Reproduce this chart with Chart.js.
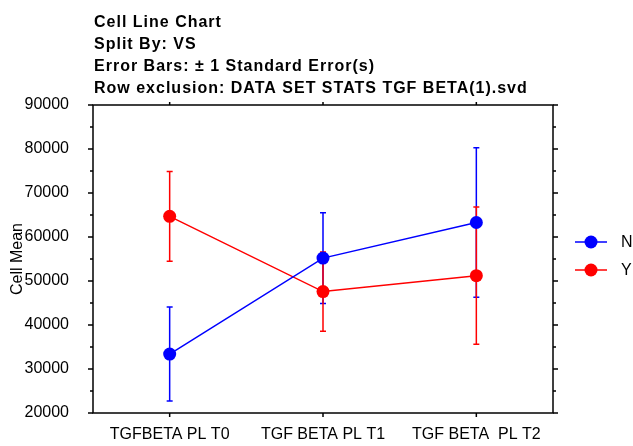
<!DOCTYPE html>
<html>
<head>
<meta charset="utf-8">
<script src="https://cdn.jsdelivr.net/npm/chart.js@4"></script>
<style>
html,body{margin:0;padding:0;background:#fff;}
#wrap{width:633px;height:446px;}
</style>
</head>
<body>
<div id="wrap"><canvas id="c" width="633" height="446"></canvas></div>
<script>
// data
const categories = ["TGFBETA PL T0", "TGF BETA PL T1", "TGF BETA  PL T2"];
const seriesNames = ["N", "Y"];
const seriesColors = ["#0000ff", "#ff0000"];
const nMean = [33400, 55200, 63300];
const nErr = [10700, 10300, 17000];
const yMean = [64700, 47600, 51200];
const yErr = [10200, 9000, 15600];
const yTicks = [20000, 30000, 40000, 50000, 60000, 70000, 80000, 90000];
const titleLines = [
  "Cell Line Chart",
  "Split By: VS",
  "Error Bars: \u00b1 1 Standard Error(s)",
  "Row exclusion: DATA SET STATS TGF BETA(1).svd"
];

const FONT = "'Liberation Sans', Arial, sans-serif";

// error bars (drawn under the lines/markers)
const errorBars = {
  id: "errorBars",
  beforeDatasetsDraw(chart){
    const {ctx, scales:{x, y}} = chart;
    ctx.save();
    chart.data.datasets.forEach(ds=>{
      ctx.strokeStyle = ds.borderColor;
      ctx.lineWidth = 1.5;
      ds.data.forEach((v, j)=>{
        const e = ds.errors[j];
        const px = x.getPixelForValue(j);
        const t = y.getPixelForValue(v + e);
        const b = y.getPixelForValue(v - e);
        ctx.beginPath();
        ctx.moveTo(px, t); ctx.lineTo(px, b);
        ctx.moveTo(px - 3, t); ctx.lineTo(px + 3, t);
        ctx.moveTo(px - 3, b); ctx.lineTo(px + 3, b);
        ctx.stroke();
      });
    });
    ctx.restore();
  }
};

// box frame with major/minor ticks
const frame = {
  id: "frame",
  afterDraw(chart){
    const {ctx, chartArea:{left, right, top, bottom}, scales:{x, y}} = chart;
    ctx.save();
    ctx.strokeStyle = "#000";
    ctx.lineWidth = 1.5;
    ctx.strokeRect(left, top, right - left, bottom - top);
    ctx.beginPath();
    yTicks.forEach((v, i)=>{
      const py = y.getPixelForValue(v);
      ctx.moveTo(left - 5, py); ctx.lineTo(left, py);
      ctx.moveTo(right, py); ctx.lineTo(right + 5, py);
      if (i < yTicks.length - 1){
        const pm = y.getPixelForValue((v + yTicks[i+1]) / 2);
        ctx.moveTo(left - 3, pm); ctx.lineTo(left, pm);
        ctx.moveTo(right, pm); ctx.lineTo(right + 3, pm);
      }
    });
    categories.forEach((c, i)=>{
      const px = x.getPixelForValue(i);
      ctx.moveTo(px, top - 3); ctx.lineTo(px, top);
      ctx.moveTo(px, bottom); ctx.lineTo(px, bottom + 4);
    });
    ctx.stroke();
    ctx.restore();
  }
};

// title block and legend
const labels = {
  id: "labels",
  afterDraw(chart){
    const {ctx, chartArea:{left, right, top, bottom}} = chart;
    ctx.save();
    ctx.fillStyle = "#000";
    ctx.font = "bold 16px " + FONT;
    ctx.textBaseline = "alphabetic";
    ctx.letterSpacing = "1px";
    titleLines.forEach((t, i)=> ctx.fillText(t, left + 1, 26.5 + i * 22.1));
    ctx.letterSpacing = "0px";

    const cy = (top + bottom) / 2 - 3;
    chart.data.datasets.forEach((ds, i)=>{
      const ly = cy - 14 + i * 28;
      ctx.strokeStyle = ds.borderColor;
      ctx.lineWidth = 1.5;
      ctx.beginPath(); ctx.moveTo(right + 22, ly); ctx.lineTo(right + 54, ly); ctx.stroke();
      ctx.fillStyle = ds.borderColor;
      ctx.beginPath(); ctx.arc(right + 38, ly, 6.5, 0, Math.PI * 2); ctx.fill();
      ctx.fillStyle = "#000";
      ctx.font = "16px " + FONT;
      ctx.textBaseline = "middle";
      ctx.fillText(ds.label, right + 68, ly + 1);
    });
    ctx.restore();
  }
};

const means = [nMean, yMean];
const errs = [nErr, yErr];

new Chart(document.getElementById("c"), {
  type: "line",
  data: {
    labels: categories,
    datasets: seriesNames.map((name, i)=>({
      label: name,
      data: means[i],
      errors: errs[i],
      borderColor: seriesColors[i],
      backgroundColor: seriesColors[i],
      pointBackgroundColor: seriesColors[i],
      borderWidth: 1.5,
      pointRadius: 6.5,
      pointBorderWidth: 0,
      tension: 0
    }))
  },
  options: {
    responsive: false,
    animation: false,
    layout: { padding: { top: 105, right: 80, left: 0, bottom: 0 } },
    plugins: { legend: { display: false }, title: { display: false }, tooltip: { enabled: false } },
    scales: {
      x: {
        type: "category",
        offset: true,
        grid: { display: false },
        border: { display: false },
        ticks: { color: "#000", font: { family: FONT, size: 16 }, padding: 4, maxRotation: 0, autoSkip: false },
        afterFit(s){ s.height = 33; }
      },
      y: {
        min: 20000,
        max: 90000,
        grid: { display: false },
        border: { display: false },
        afterBuildTicks(s){ s.ticks = yTicks.map(v=>({ value: v })); },
        ticks: { color: "#000", font: { family: FONT, size: 16 }, padding: 16, callback: v => String(v) },
        title: { display: true, text: "Cell Mean", color: "#000", font: { family: FONT, size: 16 }, padding: { top: 8 } },
        afterFit(s){ s.width = 93; }
      }
    }
  },
  plugins: [errorBars, frame, labels]
});
</script>
</body>
</html>
